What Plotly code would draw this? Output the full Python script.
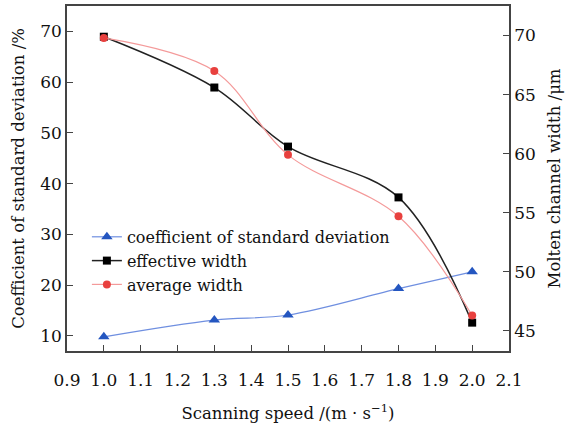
import plotly.graph_objects as go

speed = [1.0, 1.3, 1.5, 1.8, 2.0]
coef_std = [9.8, 13.1, 14.1, 19.3, 22.6]
effective_width = [69.9, 65.6, 60.6, 56.3, 45.7]
average_width = [69.8, 67.0, 59.9, 54.7, 46.3]

FONT = "DejaVu Serif"
TXT = "#111111"

fig = go.Figure()
fig.add_trace(go.Scatter(
    x=speed, y=coef_std, name="coefficient of standard deviation",
    mode="lines+markers", line=dict(color="#6f8fe0", width=1.2, shape="spline"),
    marker=dict(symbol="triangle-up", size=10, color="#2456c0"), yaxis="y"))
fig.add_trace(go.Scatter(
    x=speed, y=effective_width, name="effective width",
    mode="lines+markers", line=dict(color="#222222", width=1.5, shape="spline"),
    marker=dict(symbol="square", size=8, color="#000000"), yaxis="y2"))
fig.add_trace(go.Scatter(
    x=speed, y=average_width, name="average width",
    mode="lines+markers", line=dict(color="#f49a9a", width=1.2, shape="spline"),
    marker=dict(symbol="circle", size=8, color="#e8403e"), yaxis="y2"))

axis_common = dict(showline=True, linecolor="#444444", linewidth=1.5,
                   ticks="inside", ticklen=6, tickcolor="#444444",
                   showgrid=False, zeroline=False,
                   tickfont=dict(family=FONT, size=17, color=TXT))

fig.update_layout(
    width=565, height=429,
    margin=dict(l=67, r=56, t=4, b=78),
    paper_bgcolor="white", plot_bgcolor="white",
    font=dict(family=FONT, size=16, color=TXT),
    xaxis=dict(range=[0.9, 2.1], dtick=0.1, tick0=0.9, tickformat=".1f",
               mirror=True, ticklabelstandoff=13,
               title=dict(text="Scanning speed /(m · s<sup>−1</sup>)",
                          font=dict(family=FONT, size=16.5), standoff=18),
               **axis_common),
    yaxis=dict(range=[7, 75], tickvals=[10, 20, 30, 40, 50, 60, 70],
               title=dict(text="Coefficient of standard deviation /%",
                          font=dict(family=FONT, size=16.5), standoff=11),
               **axis_common),
    yaxis2=dict(range=[43.3, 72.5], tickvals=[45, 50, 55, 60, 65, 70],
                overlaying="y", side="right",
                title=dict(text="Molten channel width /μm",
                           font=dict(family=FONT, size=16.5), standoff=14),
                **axis_common),
    legend=dict(x=0.045, y=0.38, xanchor="left", yanchor="top",
                bgcolor="rgba(0,0,0,0)", font=dict(family=FONT, size=16, color=TXT),
                tracegroupgap=0, itemsizing="trace"),
    showlegend=True,
)

fig.write_html("out.html")
